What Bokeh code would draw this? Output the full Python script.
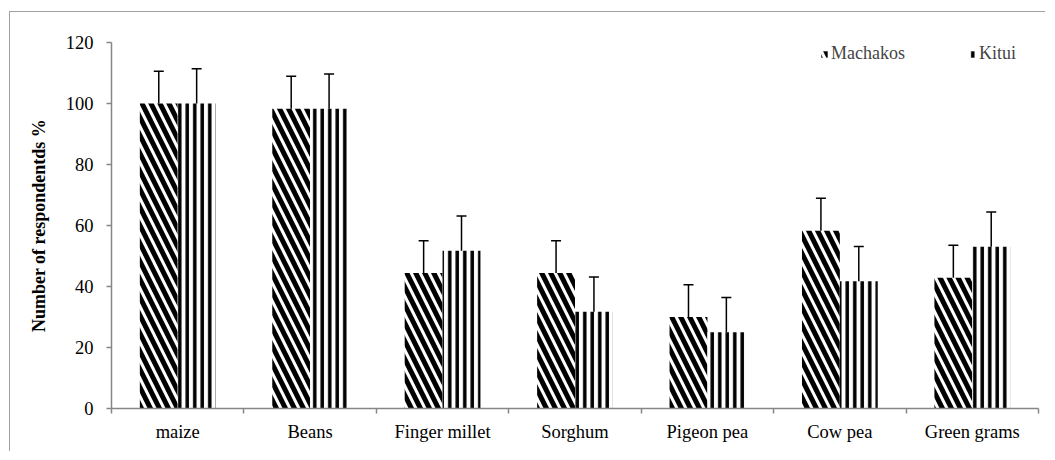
from bokeh.plotting import figure
from bokeh.models import ColumnDataSource, Whisker, TeeHead, FixedTicker, Range1d, Legend, LegendItem
from bokeh.embed import file_html
from bokeh.resources import INLINE

crops = ["maize", "Beans", "Finger millet", "Sorghum", "Pigeon pea", "Cow pea", "Green grams"]
machakos = [100, 98.3, 44.4, 44.4, 30.0, 58.3, 42.9]
kitui = [100, 98.3, 51.7, 31.7, 25.0, 41.7, 53.0]
machakos_err = [10.6, 10.6, 10.6, 10.6, 10.6, 10.6, 10.6]
kitui_err = [11.4, 11.4, 11.4, 11.4, 11.4, 11.4, 11.4]
y_ticks = [0, 20, 40, 60, 80, 100, 120]

FONT = "Liberation Serif"
GRAY = "#868686"
BW = 0.286
OFF = 0.143

pos = [i + 0.5 for i in range(len(crops))]
src_m = ColumnDataSource(dict(
    x=[p_ - OFF for p_ in pos], top=machakos,
    lower=[v - e for v, e in zip(machakos, machakos_err)],
    upper=[v + e for v, e in zip(machakos, machakos_err)]))
src_k = ColumnDataSource(dict(
    x=[p_ + OFF for p_ in pos], top=kitui,
    lower=[v - e for v, e in zip(kitui, kitui_err)],
    upper=[v + e for v, e in zip(kitui, kitui_err)]))

p = figure(width=1036, height=440, output_backend="svg", toolbar_location=None,
           x_range=Range1d(0, len(crops)), y_range=Range1d(0, 120),
           min_border_left=101, min_border_right=8, min_border_top=30, min_border_bottom=44)
p.styles = {"border-top": "1px solid #a0a0a0", "border-left": "1px solid #a0a0a0",
            "margin-top": "11px", "margin-left": "9px"}
p.outline_line_color = None
p.xgrid.grid_line_color = None
p.ygrid.grid_line_color = None

r_m = p.vbar(x="x", top="top", width=BW, source=src_m, fill_color="white", line_color=None,
             hatch_pattern="left_diagonal_line", hatch_color="black", hatch_weight=5, hatch_scale=18)
r_k = p.vbar(x="x", top="top", width=BW, source=src_k, fill_color="white", line_color=None,
             hatch_pattern="vertical_line", hatch_color="black", hatch_weight=3.5, hatch_scale=7.5)

for src in (src_m, src_k):
    w = Whisker(base="x", lower="lower", upper="upper", source=src, line_color="black", line_width=1.5,
                upper_head=TeeHead(size=10, line_color="black", line_width=1.5),
                lower_head=TeeHead(size=10, line_color="black", line_width=1.5))
    p.add_layout(w)

# axes
p.xaxis.ticker = FixedTicker(ticks=pos, minor_ticks=list(range(len(crops) + 1)))
p.xaxis.major_label_overrides = {pos[i]: crops[i] for i in range(len(crops))}
p.xaxis.major_tick_out = 0
p.xaxis.major_tick_in = 0
p.xaxis.minor_tick_out = 5
p.xaxis.minor_tick_in = 0
p.xaxis.minor_tick_line_color = GRAY
p.xaxis.minor_tick_line_width = 1.5
p.xaxis.major_label_standoff = 8

p.yaxis.ticker = FixedTicker(ticks=y_ticks)
p.yaxis.major_tick_out = 5
p.yaxis.major_tick_in = 0
p.yaxis.minor_tick_line_color = None
p.yaxis.major_label_standoff = 13
p.yaxis.axis_label = "Number of respondentds %"
p.yaxis.axis_label_text_font = FONT
p.yaxis.axis_label_text_font_size = "18px"
p.yaxis.axis_label_text_font_style = "bold"
p.yaxis.axis_label_text_color = "black"
p.yaxis.axis_label_standoff = 14

for ax in (p.xaxis[0], p.yaxis[0]):
    ax.axis_line_color = GRAY
    ax.axis_line_width = 1.5
    ax.major_tick_line_color = GRAY
    ax.major_tick_line_width = 1.5
    ax.major_label_text_font = FONT
    ax.major_label_text_font_size = "18.5px"
    ax.major_label_text_color = "black"

legend = Legend(items=[LegendItem(label="Machakos", renderers=[r_m]),
                       LegendItem(label="Kitui", renderers=[r_k])],
                orientation="horizontal", location=(709, 344),
                padding=0, margin=0, spacing=63, label_standoff=3,
                glyph_width=8, glyph_height=8,
                label_text_font=FONT, label_text_font_size="18px",
                border_line_color=None, background_fill_alpha=0)
p.add_layout(legend)

open("out.html", "w").write(file_html(p, INLINE))
